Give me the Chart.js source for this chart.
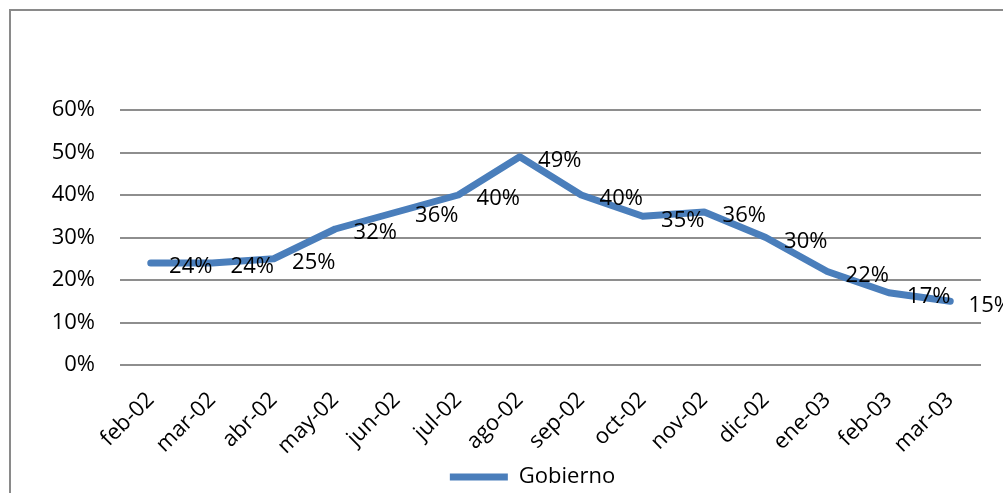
<!DOCTYPE html>
<html>
<head>
<meta charset="utf-8">
<script src="https://cdn.jsdelivr.net/npm/chart.js@4"></script>
<style>
  html, body { margin: 0; padding: 0; background: #fff; overflow: hidden; }
  #frame { position: absolute; left: 9px; top: 9px; width: 1010px; height: 520px; border: 2px solid #8a8a8a; box-sizing: border-box; }
  #wrap { position: absolute; left: 0; top: 0; width: 1003px; height: 498px; }
</style>
</head>
<body>
<div id="frame"></div>
<div id="wrap"><canvas id="lineChart"></canvas></div>
<script>
Chart.defaults.font.family = '"Open Sans", "Noto Sans", sans-serif'
Chart.defaults.font.size = 22
Chart.defaults.color = '#000'

// meses y porcentaje del gobierno
const months = ['feb-02', 'mar-02', 'abr-02', 'may-02', 'jun-02', 'jul-02', 'ago-02',
                'sep-02', 'oct-02', 'nov-02', 'dic-02', 'ene-03', 'feb-03', 'mar-03']
const gobierno = [24, 24, 25, 32, 36, 40, 49, 40, 35, 36, 30, 22, 17, 15]
const yTicks = [0, 10, 20, 30, 40, 50, 60]

// etiquetas de valor al lado derecho de cada punto
const valueLabels = {
    id: 'valueLabels',
    afterDatasetsDraw(chart) {
        const { ctx } = chart
        const meta = chart.getDatasetMeta(0)
        ctx.save()
        ctx.font = '22px "Open Sans", "Noto Sans", sans-serif'
        ctx.fillStyle = '#000'
        ctx.textAlign = 'center'
        ctx.textBaseline = 'middle'
        meta.data.forEach((pt, i) => {
            ctx.fillText(gobierno[i] + '%', pt.x + 40, pt.y + 4)
        })
        ctx.restore()
    }
}

// la leyenda va un poco a la derecha del centro del lienzo
const legendShift = {
    id: 'legendShift',
    afterLayout(chart) {
        const lg = chart.legend
        const mid = (chart.chartArea.left + chart.chartArea.right) / 2 - 18
        const d = mid - (lg.left + lg.right) / 2
        lg.left += d
        lg.right += d
    }
}

const data = {
    labels: months,
    datasets: [{
        label: 'Gobierno',
        data: gobierno,
        borderColor: '#4a7ebb',
        backgroundColor: '#4a7ebb',
        borderWidth: 7,
        borderCapStyle: 'round',
        borderJoinStyle: 'round',
        tension: 0,
        pointRadius: 0,
        pointHoverRadius: 0
    }]
}

const options = {
    responsive: true,
    maintainAspectRatio: false,
    animation: false,
    layout: { padding: { top: 110, left: 0, right: 22, bottom: 0 } },
    plugins: {
        legend: {
            position: 'bottom',
            labels: {
                usePointStyle: true,
                pointStyle: 'line',
                pointStyleWidth: 58,
                padding: 6,
                color: '#000'
            }
        },
        tooltip: { enabled: false }
    },
    scales: {
        x: {
            offset: true,
            grid: { display: false, drawTicks: false },
            border: { display: false },
            ticks: { minRotation: 45, maxRotation: 45, padding: 22, autoSkip: false },
            afterFit: scale => { scale.height = 95 }
        },
        y: {
            min: 0,
            max: 60,
            afterBuildTicks: scale => { scale.ticks = yTicks.map(v => ({ value: v })) },
            grid: { color: '#8e8e8e', lineWidth: 2, drawTicks: false },
            border: { display: false },
            ticks: { padding: 25, callback: v => v + '%' },
            afterFit: scale => { scale.width = 120 }
        }
    }
}

new Chart('lineChart', { type: 'line', data, options, plugins: [valueLabels, legendShift] })
</script>
</body>
</html>
